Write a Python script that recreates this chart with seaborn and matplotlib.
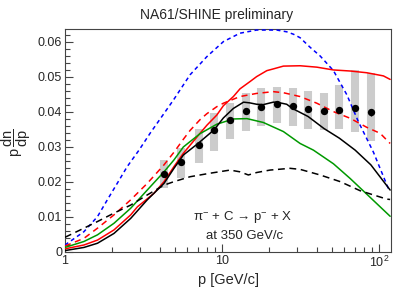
import matplotlib
matplotlib.use("Agg")
import matplotlib.pyplot as plt
import matplotlib.ticker as mticker
import seaborn as sns
import numpy as np

# measured points (NA61/SHINE preliminary)
p_data = [4.3, 5.5, 7.1, 8.9, 11.2, 14.1, 17.7, 22.3, 28.1, 35.3, 44.5, 55.9, 70.3, 88.5]
y_data = [0.0222, 0.0257, 0.0306, 0.0348, 0.0378, 0.0402, 0.0415, 0.0423, 0.0418,
          0.0409, 0.0404, 0.0407, 0.0412, 0.0399]
y_stat = [0.0004, 0.0004, 0.0004, 0.0004, 0.0004, 0.0004, 0.0004, 0.0004, 0.0004,
          0.0004, 0.0004, 0.0005, 0.0006, 0.0010]
sys_lo = [0.0182, 0.0212, 0.0255, 0.0289, 0.0322, 0.0345, 0.0360, 0.0368, 0.0360,
          0.0351, 0.0349, 0.0352, 0.0343, 0.0318]
sys_hi = [0.0263, 0.0296, 0.0351, 0.0396, 0.0425, 0.0453, 0.0468, 0.0471, 0.0469,
          0.0460, 0.0454, 0.0477, 0.0520, 0.0511]

# model curves
p_black = [1, 1.32, 1.61, 2.05, 2.62, 3.34, 4.27, 4.94, 5.67, 7.03, 8.89, 10.2, 11.8,
           13.7, 15.0, 16.6, 18.3, 21.2, 22.3, 25.8, 28.04, 35.3, 44.44, 55.86, 70.34,
           88.54, 117.5]
y_black = [0.0004, 0.0013, 0.0025, 0.0053, 0.0096, 0.0149, 0.0196, 0.0239, 0.0277,
           0.0310, 0.0349, 0.0383, 0.0410, 0.0428, 0.0426, 0.0422, 0.0421, 0.0428,
           0.0428, 0.0422, 0.0410, 0.0387, 0.0353, 0.0325, 0.0291, 0.0249, 0.0177]

p_red = [1, 1.32, 1.61, 2.05, 2.62, 2.89, 3.18, 3.69, 4.27, 4.94, 5.67, 7.24, 8.0, 9.25,
         10.2, 11.8, 13.0, 15.08, 16.6, 19.27, 21.2, 24.57, 31.39, 40.11, 51.17, 65.37,
         83.5, 106.5, 117.5]
y_red = [0.0009, 0.0020, 0.0034, 0.0063, 0.0106, 0.0129, 0.0144, 0.0168, 0.0201,
         0.0244, 0.0282, 0.0339, 0.0362, 0.0391, 0.0418, 0.0444, 0.0466, 0.0487,
         0.0501, 0.0518, 0.0523, 0.0531, 0.0532, 0.0528, 0.0520, 0.0517, 0.0512,
         0.0503, 0.0493]

p_red_d = [1, 1.32, 1.61, 2.05, 2.62, 3.34, 4.27, 4.94, 5.67, 6.25, 7.24, 8.0, 9.25,
           10.2, 13.0, 16.6, 21.2, 24.57, 31.39, 40.11, 51.17, 65.37, 83.5, 101.5, 117.5]
y_red_d = [0.0017, 0.0039, 0.0068, 0.0106, 0.0149, 0.0196, 0.0249, 0.0285, 0.0322,
           0.0347, 0.0378, 0.0395, 0.0415, 0.0425, 0.0444, 0.0453, 0.0458, 0.0455,
           0.0444, 0.0425, 0.0401, 0.0382, 0.0356, 0.0339, 0.0310]

p_blue = [1, 1.32, 1.61, 1.86, 2.15, 2.49, 2.96, 3.48, 4.90, 6.25, 8.0, 10.2, 13.0,
          16.6, 22.3, 25.8, 28.5, 31.4, 36.3, 42.1, 51.2, 62.3, 73.8, 92.0, 114.3, 117.5]
y_blue = [0.0020, 0.0058, 0.0101, 0.0149, 0.0196, 0.0244, 0.0291, 0.0339, 0.0434,
          0.0506, 0.0558, 0.0601, 0.0625, 0.0634, 0.0634, 0.0629, 0.0622, 0.0612,
          0.0585, 0.0560, 0.0518, 0.0449, 0.0372, 0.0285, 0.0182, 0.0175]

p_green = [1, 1.32, 1.61, 2.05, 2.62, 3.34, 4.27, 4.94, 5.67, 7.24, 9.25, 11.8, 14.4,
           18.3, 24.57, 31.39, 38.15, 51.17, 65.37, 83.5, 117.5]
y_green = [0.0013, 0.0030, 0.0049, 0.0082, 0.0125, 0.0177, 0.0229, 0.0263, 0.0300,
           0.0338, 0.0365, 0.0380, 0.0381, 0.0370, 0.0344, 0.0310, 0.0291, 0.0252,
           0.0210, 0.0165, 0.0102]

p_black_d = [1, 1.32, 1.61, 2.05, 2.62, 3.34, 4.27, 4.94, 6.26, 8.39, 11.24, 13.0, 14.7,
             16.6, 20.2, 27.1, 31.4, 42.1, 56.5, 75.7, 111.9, 117.5]
y_black_d = [0.0042, 0.0068, 0.0087, 0.0111, 0.0134, 0.0163, 0.0191, 0.0201, 0.0215,
             0.0225, 0.0234, 0.0229, 0.0220, 0.0227, 0.0234, 0.0239, 0.0236, 0.0220,
             0.0201, 0.0175, 0.0151, 0.0150]

sns.set_theme(style="white")
plt.rcParams["font.family"] = ["Liberation Sans", "DejaVu Sans"]
plt.rcParams["mathtext.fontset"] = "custom"
plt.rcParams["mathtext.rm"] = "Liberation Sans"
plt.rcParams["mathtext.it"] = "Liberation Sans:italic"

fig = plt.figure(figsize=(4.07, 2.95), dpi=100)
ax = fig.add_axes([0.1597, 0.1458, 0.801, 0.7559])

# systematic boxes
ax.vlines(p_data, sys_lo, sys_hi, colors="#cccccc", linewidth=5.8, zorder=1)

lw = 1.1
sns.lineplot(x=p_blue, y=y_blue, ax=ax, color="#0000ff", linewidth=lw,
             linestyle=(0, (2.6, 2.2)), zorder=3)
sns.lineplot(x=p_red, y=y_red, ax=ax, color="#ff0000", linewidth=lw, zorder=3)
sns.lineplot(x=p_red_d, y=y_red_d, ax=ax, color="#ff0000", linewidth=lw,
             linestyle=(0, (4, 3)), zorder=3)
sns.lineplot(x=p_green, y=y_green, ax=ax, color="#009900", linewidth=lw, zorder=3)
sns.lineplot(x=p_black_d, y=y_black_d, ax=ax, color="black", linewidth=lw,
             linestyle=(0, (4.5, 3)), zorder=3)
sns.lineplot(x=p_black, y=y_black, ax=ax, color="black", linewidth=lw, zorder=3)

ax.errorbar(p_data, y_data, yerr=y_stat, fmt="none", ecolor="black", elinewidth=1, zorder=4)
sns.scatterplot(x=p_data, y=y_data, ax=ax, color="black", s=28, edgecolor="black",
                linewidth=0, zorder=5)

ax.set_xscale("log")
ax.set_xlim(1, 119)
ax.set_ylim(0, 0.0637)

ax.set_xticks([1, 10, 100])
ax.set_xticklabels(["1", "10", r"$10^{2}$"])
ax.xaxis.set_minor_locator(mticker.LogLocator(base=10, subs=np.arange(2, 10), numticks=10))
ax.xaxis.set_minor_formatter(mticker.NullFormatter())
ax.set_yticks([0, 0.01, 0.02, 0.03, 0.04, 0.05, 0.06])
ax.set_yticklabels(["0", "0.01", "0.02", "0.03", "0.04", "0.05", "0.06"])
ax.yaxis.set_minor_locator(mticker.MultipleLocator(0.002))

ax.tick_params(axis="both", which="major", direction="in", length=6, width=0.8,
               color="#444444", labelsize=9, pad=2)
ax.tick_params(axis="both", which="minor", direction="in", length=3.5, width=0.8,
               color="#444444")
ax.tick_params(axis="both", which="both", left=True, bottom=True, top=False, right=False)

for s in ax.spines.values():
    s.set_color("#444444")
    s.set_linewidth(0.8)

ax.set_xlabel("p [GeV/c]", fontsize=10.5, labelpad=2)
ax.set_ylabel(r"$\mathrm{p}\,\dfrac{\mathrm{dn}}{\mathrm{dp}}$", fontsize=10.5)
ax.yaxis.set_label_coords(-0.098, 0.49)

fig.text(217 / 407, 1 - 15 / 295, "NA61/SHINE preliminary", ha="center", va="center",
         fontsize=10)
ax.text(0.545, 0.155, "π$^{-}$ + C → p$^{-}$ + X", transform=ax.transAxes,
        ha="center", va="center", fontsize=9.5)
ax.text(0.55, 0.07, "at 350 GeV/c", transform=ax.transAxes, ha="center", va="center",
        fontsize=9.5)

fig.savefig("out.png", dpi=100)
